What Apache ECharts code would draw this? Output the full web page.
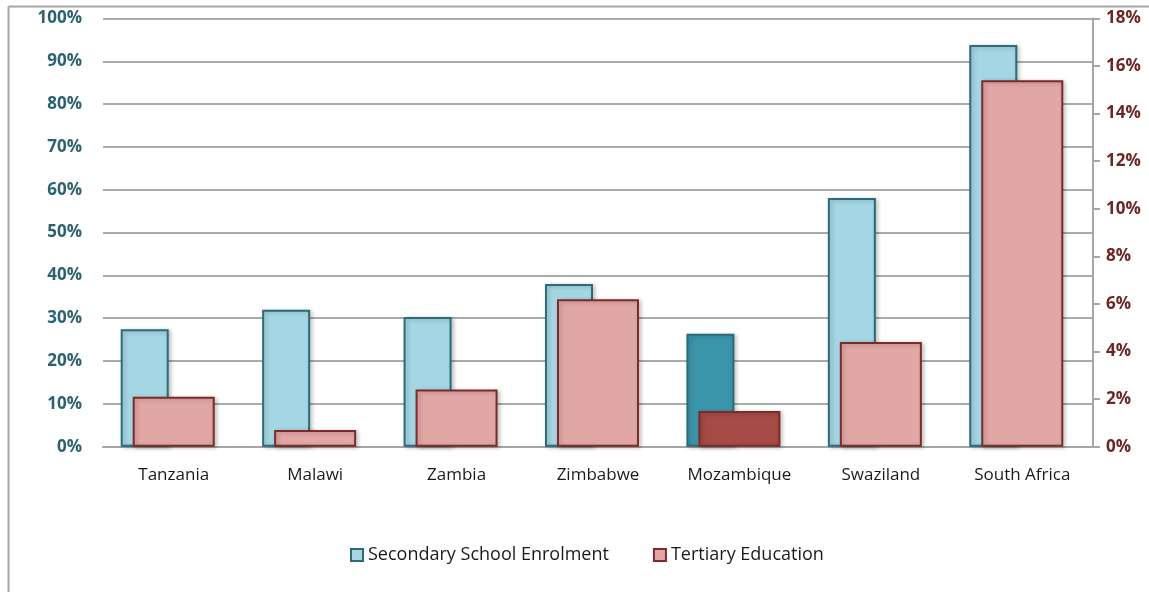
<!DOCTYPE html>
<html>
<head>
<meta charset="utf-8">
<script src="https://cdn.jsdelivr.net/npm/echarts@6/dist/echarts.min.js"></script>
<style>
  html, body { margin: 0; padding: 0; background: #ffffff; }
  #chart { width: 1149px; height: 592px; }
</style>
</head>
<body>
<div id="chart"></div>
<script>
// Enrolment rates across southern African countries
const countries = ['Tanzania', 'Malawi', 'Zambia', 'Zimbabwe', 'Mozambique', 'Swaziland', 'South Africa'];
const secondaryEnrolment = [27.4, 32.0, 30.3, 38.0, 26.4, 58.1, 93.8];   // % (left axis)
const tertiaryEducation = [2.1, 0.7, 2.4, 6.2, 1.5, 4.4, 15.4];         // % (right axis)
const leftTicks = { min: 0, max: 100, step: 10 };
const rightTicks = { min: 0, max: 18, step: 2 };
const highlighted = 'Mozambique';

const secFill = '#a5d6e3', secEdge = '#2b6b7b', secFillHi = '#3b95aa';
const terFill = '#e1a7a5', terEdge = '#7b2c2a', terFillHi = '#a64b45';

const font = '"Open Sans", "Liberation Sans", sans-serif';
const shadow = { shadowBlur: 4, shadowColor: 'rgba(0,0,0,0.22)', shadowOffsetX: 2, shadowOffsetY: 1 };

const secData = secondaryEnrolment.map((v, i) => ({
  value: v,
  itemStyle: countries[i] === highlighted ? { color: secFillHi } : undefined
}));
const terData = tertiaryEducation.map((v, i) => ({
  value: v,
  itemStyle: countries[i] === highlighted ? { color: terFillHi } : undefined
}));

const chart = echarts.init(document.getElementById('chart'), null, { renderer: 'canvas' });

chart.setOption({
  animation: false,
  backgroundColor: '#ffffff',
  graphic: [
    { type: 'line', shape: { x1: 8.5, y1: 6.5, x2: 1149, y2: 6.5 }, style: { stroke: '#a6a6a6', lineWidth: 2 }, silent: true },
    { type: 'line', shape: { x1: 8.5, y1: 6.5, x2: 8.5, y2: 592 }, style: { stroke: '#a6a6a6', lineWidth: 2 }, silent: true }
  ],
  legend: {
    left: 345,
    top: 541,
    itemWidth: 12,
    itemHeight: 12,
    itemGap: 44,
    icon: 'rect',
    data: ['Secondary School Enrolment', 'Tertiary Education'],
    textStyle: { fontFamily: font, fontSize: 18, color: '#1a1a1a' }
  },
  grid: [
    // main plot area (tertiary bars centred on each category)
    { left: 103, right: 56, top: 18.5, height: 428.2 },
    // same plot area shifted left so secondary bars sit behind the left part of each group
    { left: 74, right: 85, top: 18.5, height: 428.2 }
  ],
  xAxis: [
    {
      type: 'category', gridIndex: 0, data: countries,
      axisLine: { show: true, lineStyle: { color: '#a6a6a6', width: 2 } },
      axisTick: { show: false },
      axisLabel: { interval: 0, hideOverlap: false, fontFamily: font, fontSize: 17, color: '#1a1a1a', margin: 20 }
    },
    {
      type: 'category', gridIndex: 1, data: countries, show: false
    }
  ],
  yAxis: [
    {
      type: 'value', gridIndex: 0, position: 'left',
      min: leftTicks.min, max: leftTicks.max, interval: leftTicks.step,
      axisLine: { show: false }, axisTick: { show: false },
      splitLine: { show: true, lineStyle: { color: '#ababab', width: 2 } },
      axisLabel: { formatter: '{value}%', fontFamily: font, fontWeight: 'bold', fontSize: 17, color: '#2b6171', margin: 21 }
    },
    {
      type: 'value', gridIndex: 0, position: 'right',
      min: rightTicks.min, max: rightTicks.max, interval: rightTicks.step,
      axisLine: { show: true, lineStyle: { color: '#a6a6a6', width: 2 } },
      axisTick: { show: true, inside: false, length: 7, lineStyle: { color: '#a6a6a6', width: 2 } },
      splitLine: { show: false },
      axisLabel: { formatter: '{value}%', fontFamily: font, fontWeight: 'bold', fontSize: 17, color: '#6e2624', margin: 13 }
    },
    {
      type: 'value', gridIndex: 1, show: false,
      min: leftTicks.min, max: leftTicks.max, interval: leftTicks.step,
      splitLine: { show: false }
    }
  ],
  series: [
    {
      name: 'Secondary School Enrolment',
      type: 'bar', xAxisIndex: 1, yAxisIndex: 2,
      barWidth: 48, z: 2,
      itemStyle: Object.assign({ color: secFill, borderColor: secEdge, borderWidth: 2 }, shadow),
      data: secData
    },
    {
      name: 'Tertiary Education',
      type: 'bar', xAxisIndex: 0, yAxisIndex: 1,
      barWidth: 82, z: 3,
      itemStyle: Object.assign({ color: terFill, borderColor: terEdge, borderWidth: 2 }, shadow),
      data: terData
    }
  ]
});
</script>
</body>
</html>
